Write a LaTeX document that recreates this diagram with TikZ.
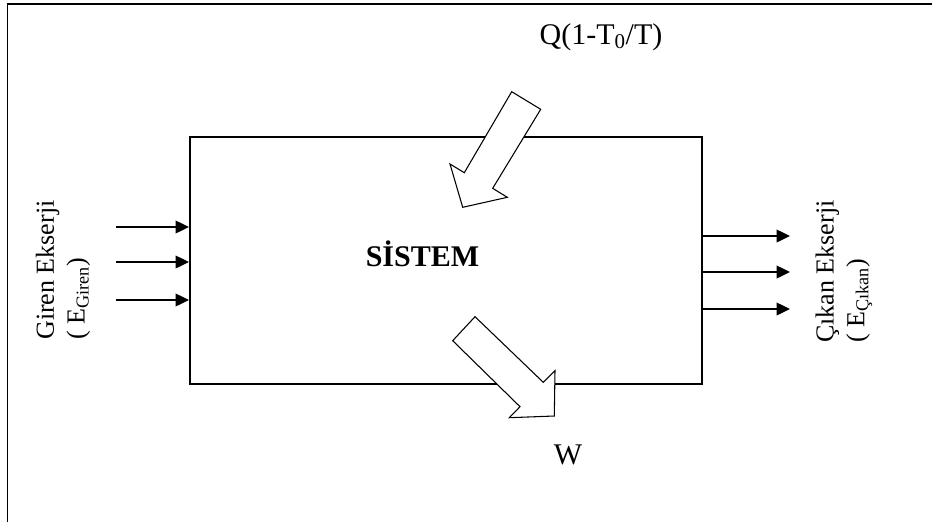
\documentclass[tikz,border=0pt]{standalone}
\usepackage{fontspec}
\setmainfont{Liberation Serif}
\usetikzlibrary{arrows.meta}

\begin{document}
\begin{tikzpicture}[
    x=0.75pt, y=0.75pt,
    >={Triangle[length=10pt,width=9.5pt]},
    label/.style={font=\fontsize{19.5}{23}\selectfont, inner sep=0pt},
    biglabel/.style={font=\fontsize{22.5}{26}\selectfont, inner sep=0pt},
    flow/.style={->, line width=1pt},
    blockarrow/.style={draw, fill=white, line width=0.8pt, line join=miter}
]

\useasboundingbox (0,0) rectangle (932,-522);

% Page frame
\draw[line width=1.6pt] (7,-4) -- (932,-4);
\draw[line width=1.1pt] (7.5,-4) -- (7.5,-522);

% -------------------------
% System box
% -------------------------
\node[draw, line width=1.5pt, minimum width=384pt, minimum height=185.25pt, inner sep=0pt] (Sistem) at (446,-260.5) {};
\node[biglabel, font=\fontsize{22.5}{26}\selectfont\bfseries] (SistemLabel) at (422.5,-254) {SİSTEM};

% -------------------------
% Incoming and outgoing exergy
% -------------------------
\foreach \y [count=\i] in {227,262,300} {
    \coordinate (in\i) at (116,-\y);
    \draw[flow] (in\i) -- (in\i -| Sistem.west);
}
\foreach \y [count=\i] in {236,272,309} {
    \coordinate (out\i) at (790,-\y);
    \draw[flow] (out\i -| Sistem.east) -- (out\i);
}

\node[label, rotate=90, anchor=west, align=left] (GirenLabel) at (63,-340)
    {Giren Ekserji\\( E\textsubscript{Giren})};
\node[label, rotate=90, anchor=west, align=left] (CikanLabel) at (844,-343)
    {Çıkan Ekserji\\( E\textsubscript{Çıkan})};

% -------------------------
% Heat and work
% -------------------------
\draw[blockarrow] (511.7,-91.7) -- (540.7,-109.3) -- (492.7,-188.3) -- (507.3,-197.3)
    -- (462.7,-207.3) -- (450,-164) -- (464.3,-172.7) -- cycle;
\node[biglabel] (QLabel) at (601,-37) {Q(1-T\textsubscript{0}/T)};

\draw[blockarrow] (475,-316.7) -- (543.3,-382.3) -- (555,-370.7) -- (554.3,-416)
    -- (509.3,-417.7) -- (520,-406.7) -- (452.7,-340.7) -- cycle;
\node[biglabel] (WLabel) at (568,-455) {W};

\end{tikzpicture}
\end{document}
